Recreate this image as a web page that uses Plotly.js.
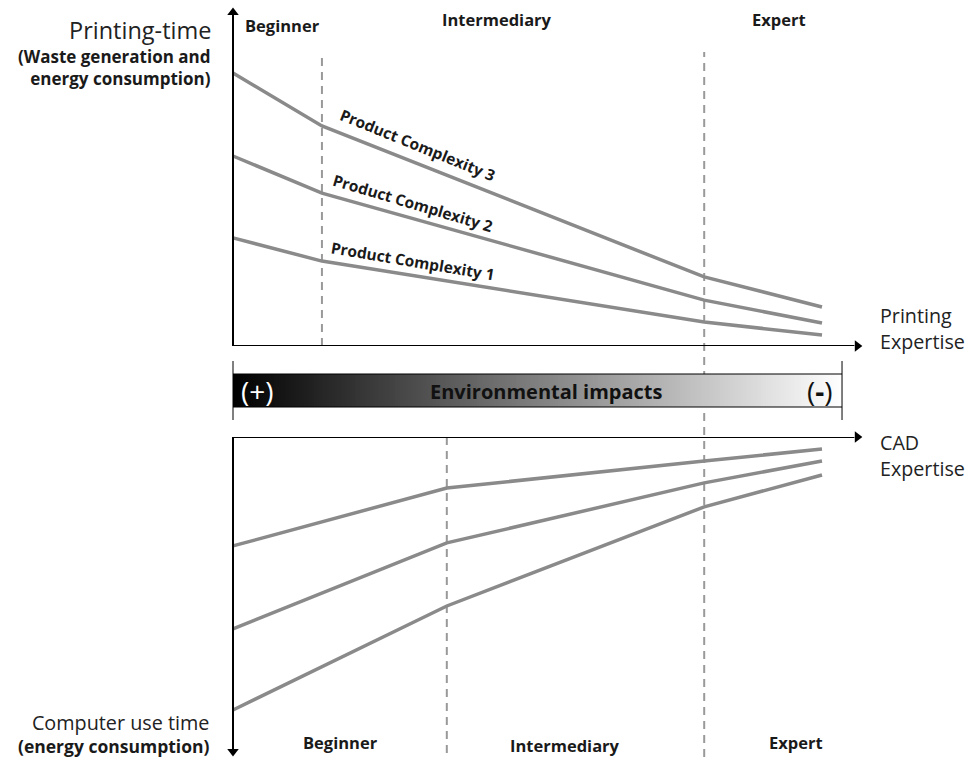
<!DOCTYPE html>
<html>
<head>
<meta charset="utf-8">
<script src="https://cdn.plot.ly/plotly-3.0.1.min.js"></script>
<style>
  html, body { margin: 0; padding: 0; background: #fff; }
  #chart { width: 969px; height: 760px; }
</style>
</head>
<body>
<div id="chart"></div>
<script>
// expertise levels (0 = novice ... 10 = end of the curves)
var printLevels = [0, 1.51, 8.0, 10];
var printPC1 = [3.96, 3.11, 0.88, 0.40];
var printPC2 = [6.96, 5.60, 1.68, 0.84];
var printPC3 = [10.0, 8.06, 2.53, 1.43];

var cadLevels = [0, 3.63, 8.0, 10];
var cadPC1 = [3.99, 1.87, 0.88, 0.44];
var cadPC2 = [7.03, 3.88, 1.68, 0.88];
var cadPC3 = [10.0, 6.19, 2.56, 1.39];

var stageTop = ['Beginner', 'Intermediary', 'Expert'];
var stageBottom = ['Beginner', 'Intermediary', 'Expert'];
var complexityNames = ['Product Complexity 1', 'Product Complexity 2', 'Product Complexity 3'];

var impactStops = [[0, '#000000'], [1, '#ffffff']];

// page pixel -> paper helpers (layout only)
function px(x) { return x / 969; }
function py(y) { return 1 - y / 760; }

var FONT = 'Open Sans, Noto Sans, sans-serif';
var TXT = '#1a1a1a';
var GREY = '#8a8a8a';

var data = [];

// gradient bar
var nCells = 240, zRow = [], xEdges = [];
for (var i = 0; i <= nCells; i++) {
    xEdges.push(10.34 * i / nCells);
    if (i < nCells) zRow.push((i + 0.5) / nCells);
}
data.push({
    type: 'heatmap',
    x: xEdges,
    y: [0, 1],
    z: [zRow],
    zmin: 0, zmax: 1,
    colorscale: impactStops,
    showscale: false,
    hoverinfo: 'skip',
    xaxis: 'x', yaxis: 'y3'
});

[printPC1, printPC2, printPC3].forEach(function (vals, k) {
    data.push({
        x: printLevels, y: vals, name: complexityNames[k],
        type: 'scatter', mode: 'lines',
        line: { color: GREY, width: 3.5 },
        xaxis: 'x', yaxis: 'y', hoverinfo: 'name'
    });
});
[cadPC1, cadPC2, cadPC3].forEach(function (vals, k) {
    data.push({
        x: cadLevels, y: vals, name: complexityNames[k],
        type: 'scatter', mode: 'lines',
        line: { color: GREY, width: 3.5 },
        xaxis: 'x', yaxis: 'y2', hoverinfo: 'name'
    });
});

// arrow heads
data.push({
    x: [0, 10.6], y: [12.22, 0], type: 'scatter', mode: 'markers',
    marker: { symbol: ['triangle-up', 'triangle-right'], size: 10, color: '#000' },
    xaxis: 'x', yaxis: 'y', hoverinfo: 'skip', cliponaxis: false
});
data.push({
    x: [10.6, 0], y: [0, 11.52], type: 'scatter', mode: 'markers',
    marker: { symbol: ['triangle-right', 'triangle-down'], size: 10, color: '#000' },
    xaxis: 'x', yaxis: 'y2', hoverinfo: 'skip', cliponaxis: false
});

var dash = { color: '#999999', width: 2, dash: '8px,6px' };
var shapes = [
    // dashed stage dividers
    { type: 'line', layer: 'below', xref: 'x', yref: 'y', x0: 1.51, x1: 1.51, y0: 0, y1: 10.77, line: dash },
    { type: 'line', layer: 'below', xref: 'x', yref: 'paper', x0: 8.0, x1: 8.0, y0: py(757), y1: py(52), line: dash },
    { type: 'line', layer: 'below', xref: 'x', yref: 'y2', x0: 3.63, x1: 3.63, y0: 0, y1: 11.72, line: dash },
    // axes
    { type: 'line', xref: 'x', yref: 'y', x0: 0, x1: 0, y0: 0, y1: 12.2, line: { color: '#000', width: 2 } },
    { type: 'line', xref: 'x', yref: 'y', x0: 0, x1: 10.55, y0: 0, y1: 0, line: { color: '#000', width: 2 } },
    { type: 'line', xref: 'x', yref: 'y2', x0: 0, x1: 10.55, y0: 0, y1: 0, line: { color: '#000', width: 2 } },
    { type: 'line', xref: 'x', yref: 'y2', x0: 0, x1: 0, y0: 0, y1: 11.5, line: { color: '#000', width: 2 } },
    // impact bar frame
    { type: 'line', xref: 'x', yref: 'paper', x0: 0, x1: 10.34, y0: py(374), y1: py(374), line: { color: '#000', width: 1 } },
    { type: 'line', xref: 'x', yref: 'paper', x0: 0, x1: 10.34, y0: py(407), y1: py(407), line: { color: '#000', width: 1 } },
    { type: 'line', xref: 'x', yref: 'paper', x0: 0, x1: 0, y0: py(420), y1: py(361), line: { color: '#000', width: 1 } },
    { type: 'line', xref: 'x', yref: 'paper', x0: 10.34, x1: 10.34, y0: py(420), y1: py(361), line: { color: '#000', width: 1 } }
];

function note(text, x, y, size, opts) {
    var a = {
        text: text, x: px(x), y: py(y), xref: 'paper', yref: 'paper',
        showarrow: false, xanchor: 'center', yanchor: 'middle',
        font: { family: FONT, size: size, color: TXT }
    };
    for (var k in (opts || {})) a[k] = opts[k];
    if (opts && opts.color) a.font.color = opts.color;
    delete a.color;
    return a;
}

var annotations = [
    note('Printing-time', 213, 30, 23.5, { xanchor: 'right', color: '#222' }),
    note('<b>(Waste generation and</b><br><b>energy consumption)</b>', 213, 67.5, 17, { xanchor: 'right', align: 'right' }),
    note('<b>' + stageTop[0] + '</b>', 282, 26, 16.5),
    note('<b>' + stageTop[1] + '</b>', 497, 20, 16.5),
    note('<b>' + stageTop[2] + '</b>', 779, 20, 16.5),
    note('<b>' + complexityNames[2] + '</b>', 418, 145, 15.5, { textangle: 22 }),
    note('<b>' + complexityNames[1] + '</b>', 413, 203, 15.5, { textangle: 16.5 }),
    note('<b>' + complexityNames[0] + '</b>', 413, 261, 15.5, { textangle: 9.5 }),
    note('Printing<br>Expertise', 878, 328.5, 19.7, { xanchor: 'left', align: 'left', color: '#222' }),
    note('<b>Environmental impacts</b>', 546, 391, 20, { color: '#111' }),
    note('(+)', 257, 391, 28, { color: '#ffffff' }),
    note('(<b>-</b>)', 820, 391, 28, { color: '#111' }),
    note('CAD<br>Expertise', 878, 455, 19.7, { xanchor: 'left', align: 'left', color: '#222' }),
    note('<span style="font-size:19.8px;color:#222">Computer use time</span><br><b>(energy consumption)</b>',
        212, 733, 17.5, { xanchor: 'right', align: 'right' }),
    note('<b>' + stageBottom[0] + '</b>', 340, 742, 16.5),
    note('<b>' + stageBottom[1] + '</b>', 565, 745, 16.5),
    note('<b>' + stageBottom[2] + '</b>', 796, 742, 16.5)
];

var layout = {
    width: 969,
    height: 760,
    margin: { l: 0, r: 0, t: 0, b: 0 },
    paper_bgcolor: '#ffffff',
    plot_bgcolor: '#ffffff',
    showlegend: false,
    xaxis: { range: [-233 / 58.9, 736 / 58.9], visible: false, fixedrange: true },
    yaxis: { domain: [py(346), 1], range: [0, 346 / 27.3], visible: false, fixedrange: true },
    yaxis2: { domain: [0, py(437)], range: [323 / 27.3, 0], visible: false, fixedrange: true },
    yaxis3: { domain: [py(407), py(374)], range: [0, 1], visible: false, fixedrange: true },
    shapes: shapes,
    annotations: annotations
};

var config = {
    displayModeBar: false,
    staticPlot: true
};

Plotly.newPlot('chart', data, layout, config);
</script>
</body>
</html>
